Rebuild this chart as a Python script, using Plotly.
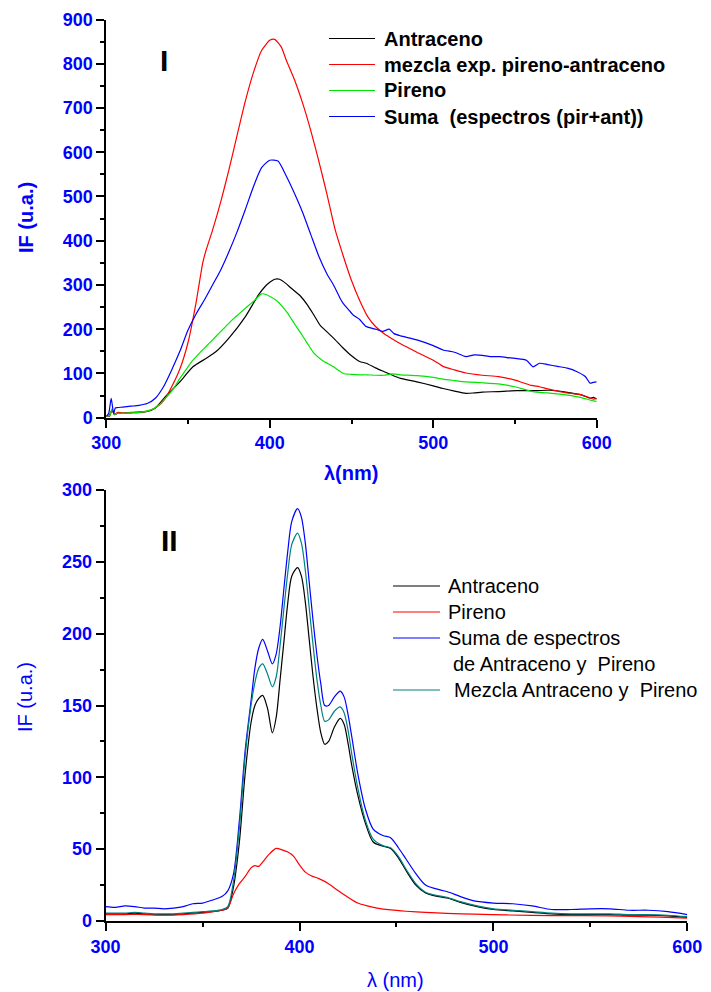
import plotly.graph_objects as go

W, H = 711, 992

# ---------------- Panel I: broad emission spectra ----------------
ant1_wl = [300, 302, 303.5, 305, 307, 310, 315, 320, 325, 330, 337, 345, 353, 361, 367, 375, 385, 393,
           397, 400, 403, 406, 410, 413, 419, 423, 427, 431, 435, 439, 445, 450, 455, 459, 465, 470, 475,
           480, 490, 500, 506, 513, 520, 525, 530, 540, 551, 560, 571, 581, 590, 596, 598, 600]
ant1_if = [3, 6, 18, 7, 10, 10, 11, 12, 14, 22, 51, 81, 115, 134, 149, 180, 228, 277,
           296, 306, 313, 313, 303, 293, 274, 255, 232, 208, 194, 180, 157, 140, 127, 123, 112, 104, 96,
           89, 81, 72, 66, 60, 55, 56, 58, 59, 61, 61, 62, 58, 52, 44, 46, 42]

mez1_wl = [300, 302, 303.5, 305, 307, 310, 315, 320, 325, 330, 335, 340, 345, 350, 355, 359, 361, 365,
           370, 375, 380, 385, 390, 395, 400, 403, 407, 410, 415, 420, 425, 430, 435, 440, 445, 450, 455,
           460, 465, 470, 475, 480, 490, 500, 506, 513, 520, 530, 540, 550, 560, 565, 570, 580, 590, 595,
           598, 600]
mez1_if = [4, 3, 18, 8, 12, 11, 12, 13, 15, 22, 38, 70, 110, 170, 262, 350, 378, 424,
           488, 560, 638, 715, 780, 830, 853, 855, 838, 809, 765, 712, 650, 580, 505, 425, 365, 310, 265,
           228, 205, 190, 178, 167, 148, 130, 116, 108, 101, 96, 93, 85, 73, 70, 65, 57, 52, 46,
           42, 43]

pir1_wl = [300, 302, 303.5, 305, 307, 310, 315, 320, 327, 332, 337, 341, 345, 349, 353, 357, 361, 365,
           369, 373, 377, 381, 385, 390, 395, 398, 401, 405, 408, 411, 415, 419, 423, 427, 432, 439, 442,
           445, 450, 455, 459, 465, 470, 475, 480, 490, 500, 506, 513, 520, 530, 541, 550, 561, 570, 582,
           590, 598, 600]
pir1_if = [3, 5, 20, 8, 10, 10, 11, 12, 17, 28, 47, 65, 89, 110, 130, 146, 161, 176,
           191, 206, 221, 234, 247, 263, 280, 278, 272, 262, 250, 236, 213, 191, 168, 146, 130, 115, 107,
           100, 98, 97, 97, 96, 96, 99, 97, 95, 91, 87, 84, 81, 79, 76, 70, 59, 56, 51,
           46, 38, 37]

sum1_wl = [300, 301.5, 303, 304.5, 305.5, 307, 310, 315, 320, 325, 330, 335, 340, 345, 350, 355, 360,
           365, 370, 375, 380, 385, 390, 395, 400, 405, 410, 415, 420, 425, 430, 435, 439, 443, 445, 448,
           451, 455, 459, 465, 469, 473, 476, 480, 490, 500, 506, 513, 520, 525, 530, 535, 541, 545, 550,
           557, 561, 565, 570, 576, 582, 588, 593, 596, 598, 600]
sum1_if = [3, 10, 44, 9, 22, 23, 24, 26, 28, 32, 44, 70, 108, 150, 198, 235, 266,
           300, 334, 375, 420, 470, 522, 565, 582, 580, 547, 508, 465, 415, 365, 325, 300, 270, 258, 245,
           232, 222, 206, 200, 195, 200, 190, 185, 176, 163, 153, 148, 138, 142, 141, 138, 138, 136, 134,
           130, 115, 123, 120, 116, 112, 104, 93, 78, 80, 81]

# ---------------- Panel II: vibronic emission spectra ----------------
wl2 = [300, 305, 310, 315, 320, 325, 330, 335, 340, 345, 350, 355, 360, 363, 366, 369, 372, 375, 377,
       379, 381, 383.5, 386, 388, 390, 392, 394, 396, 399, 401, 403, 405, 407, 409, 411, 413, 415, 418,
       421, 423, 425, 427, 430, 434, 438, 443, 447, 451, 455, 460, 465, 470, 476, 483, 490, 500, 510,
       520, 530, 540, 550, 560, 570, 580, 590, 600]
ant2_if = [5, 5, 5, 5.5, 5, 4.5, 4.5, 4.5, 5, 5.5, 6, 6.5, 7.5, 9, 24, 55, 103, 138, 150,
           155, 157, 148, 131, 142, 168, 195, 222, 240, 246, 240, 222, 196, 170, 148, 131, 123, 125, 135,
           141, 137, 124, 108, 88, 68, 55, 52, 50.5, 44, 35, 25, 19.5, 17.5, 16, 13, 10.5, 8, 7,
           6, 5, 4.5, 4.5, 4.5, 4, 4, 3.5, 2.5]
mez2_if = [5.5, 5.5, 5.5, 6, 5.5, 5, 5, 5, 5.5, 6, 6.5, 7, 8, 10, 28, 65, 115, 150, 166,
           176, 179, 172, 163, 170, 192, 218, 243, 262, 270, 263, 244, 218, 192, 168, 150, 139, 140, 146,
           149, 145, 133, 116, 93, 70, 57, 52.5, 51, 45, 36, 26, 20, 18, 16.5, 13.5, 11, 8.5, 7.5,
           6.5, 5.5, 5, 5, 5, 4.5, 4.5, 4, 3]
sum2_if = [10, 9.5, 10.5, 10, 9, 9, 8.5, 9, 10, 12, 12.5, 14.5, 17, 21, 33, 70, 119, 153, 176,
           190, 196, 188, 179, 186, 205, 232, 258, 278, 287, 281, 263, 236, 209, 185, 165, 150, 150, 156,
           160, 156, 144, 128, 103, 78, 64, 59.5, 58, 51, 43, 33, 25, 22.5, 20.5, 17, 14, 12.5, 12,
           10.5, 8, 8, 8.5, 8.5, 7.5, 7.5, 6.5, 4.5]

pir2_wl = [300, 310, 320, 330, 340, 350, 355, 360, 363, 366, 369, 372, 375, 377, 379, 381, 384, 388,
           391, 394, 397, 400, 403, 406, 410, 415, 420, 425, 430, 435, 440, 447, 455, 465, 476, 490, 507,
           530, 560, 600]
pir2_if = [4.5, 4.5, 4.5, 4, 4.5, 5.5, 6.5, 7.5, 9, 19, 26, 31, 37, 38.5, 38, 41, 46, 50.5,
           49.5, 48, 45, 39, 34, 31.5, 29.5, 26, 21, 16.5, 12.5, 10.5, 9, 7.7, 6.8, 6, 5.3, 4.8, 4.2,
           3.8, 3.5, 2]

BLUE_TXT = "#0000ff"
FONT = "Liberation Sans, Arial, sans-serif"


def px(x):
    return x / W


def py(y):
    return 1 - y / H


fig = go.Figure()

line_kw = dict(mode="lines", line_shape="spline", showlegend=False, hoverinfo="skip")

fig.add_trace(go.Scatter(x=ant1_wl, y=ant1_if, line=dict(color="#000000", width=1.2, smoothing=0.6),
                         xaxis="x", yaxis="y", name="Antraceno", **line_kw))
fig.add_trace(go.Scatter(x=mez1_wl, y=mez1_if, line=dict(color="#ff0000", width=1.2, smoothing=0.6),
                         xaxis="x", yaxis="y", name="mezcla exp. pireno-antraceno", **line_kw))
fig.add_trace(go.Scatter(x=pir1_wl, y=pir1_if, line=dict(color="#00e600", width=1.2, smoothing=0.6),
                         xaxis="x", yaxis="y", name="Pireno", **line_kw))
fig.add_trace(go.Scatter(x=sum1_wl, y=sum1_if, line=dict(color="#0000ff", width=1.2, smoothing=0.6),
                         xaxis="x", yaxis="y", name="Suma", **line_kw))

fig.add_trace(go.Scatter(x=wl2, y=ant2_if, line=dict(color="#000000", width=1.2, smoothing=0.8),
                         xaxis="x2", yaxis="y2", name="Antraceno", **line_kw))
fig.add_trace(go.Scatter(x=pir2_wl, y=pir2_if, line=dict(color="#ff0000", width=1.2, smoothing=0.8),
                         xaxis="x2", yaxis="y2", name="Pireno", **line_kw))
fig.add_trace(go.Scatter(x=wl2, y=sum2_if, line=dict(color="#0000ff", width=1.2, smoothing=0.8),
                         xaxis="x2", yaxis="y2", name="Suma", **line_kw))
fig.add_trace(go.Scatter(x=wl2, y=mez2_if, line=dict(color="#008080", width=1.2, smoothing=0.8),
                         xaxis="x2", yaxis="y2", name="Mezcla", **line_kw))


def axis(domain, rng, dtick, minor, anchor):
    return dict(domain=domain, range=rng, anchor=anchor, dtick=dtick, tick0=0,
                automargin=False,
                showline=True, linecolor="black", linewidth=2, mirror=False,
                ticks="outside", ticklen=8, tickwidth=2, tickcolor="black",
                minor=dict(ticks="outside", ticklen=4, tickwidth=2, tickcolor="black", dtick=minor),
                showgrid=False, zeroline=False, fixedrange=True,
                tickfont=dict(family=FONT, size=18, color=BLUE_TXT, weight="bold"))


fig.update_layout(
    width=W, height=H, autosize=False,
    margin=dict(l=0, r=0, t=0, b=0),
    paper_bgcolor="white", plot_bgcolor="white",
    xaxis=axis([px(106.3), px(596.7)], [300, 600], 100, 50, "y"),
    yaxis=axis([py(417.7), py(19.5)], [0, 900], 100, 50, "x"),
    xaxis2=axis([px(105.6), px(687.3)], [300, 600], 100, 50, "y2"),
    yaxis2=axis([py(921), py(490)], [0, 300], 50, 25, "x2"),
)

ann = []


def text(x, y, s, size=20, color="black", bold=False, xanchor="left", angle=0):
    ann.append(dict(x=px(x), y=py(y), xref="paper", yref="paper", text=s, showarrow=False,
                    xanchor=xanchor, yanchor="middle", textangle=angle,
                    font=dict(family=FONT, size=size, color=color, weight="bold" if bold else "normal")))


# panel labels
text(164, 60, "I", size=30, bold=True, xanchor="center")
text(169, 540, "II", size=30, bold=True, xanchor="center")

# axis titles
text(26, 218, "IF (u.a.)", size=20, color=BLUE_TXT, bold=True, xanchor="center", angle=-90)
text(351, 473, "λ(nm)", size=20, color=BLUE_TXT, bold=True, xanchor="center")
text(25, 697, "IF (u.a.)", size=20, color=BLUE_TXT, xanchor="center", angle=-90)
text(395, 980, "λ (nm)", size=20, color=BLUE_TXT, xanchor="center")

shapes = []


def key(x0, x1, y, color):
    shapes.append(dict(type="line", xref="paper", yref="paper", x0=px(x0), x1=px(x1),
                       y0=py(y), y1=py(y), line=dict(color=color, width=1.2)))


# legend, panel I
leg1 = [("Antraceno", "#000000"), ("mezcla exp. pireno-antraceno", "#ff0000"),
        ("Pireno", "#00e600"), ("Suma  (espectros (pir+ant))", "#0000ff")]
for i, (lab, col) in enumerate(leg1):
    yy = 38.5 + i * 26
    key(329, 375, yy, col)
    text(382, yy, lab, size=20, bold=True)

# legend, panel II
key(393, 440, 586, "#000000")
text(446, 586, "Antraceno", size=20)
key(393, 440, 612, "#ff0000")
text(446, 612, "Pireno", size=20)
key(393, 440, 638, "#0000ff")
text(446, 638, "Suma de espectros", size=20)
text(451, 664, "de Antraceno y  Pireno", size=20)
key(393, 440, 690, "#008080")
text(452, 690, "Mezcla Antraceno y  Pireno", size=20)

fig.update_layout(annotations=ann, shapes=shapes)

fig.write_html("out.html")
